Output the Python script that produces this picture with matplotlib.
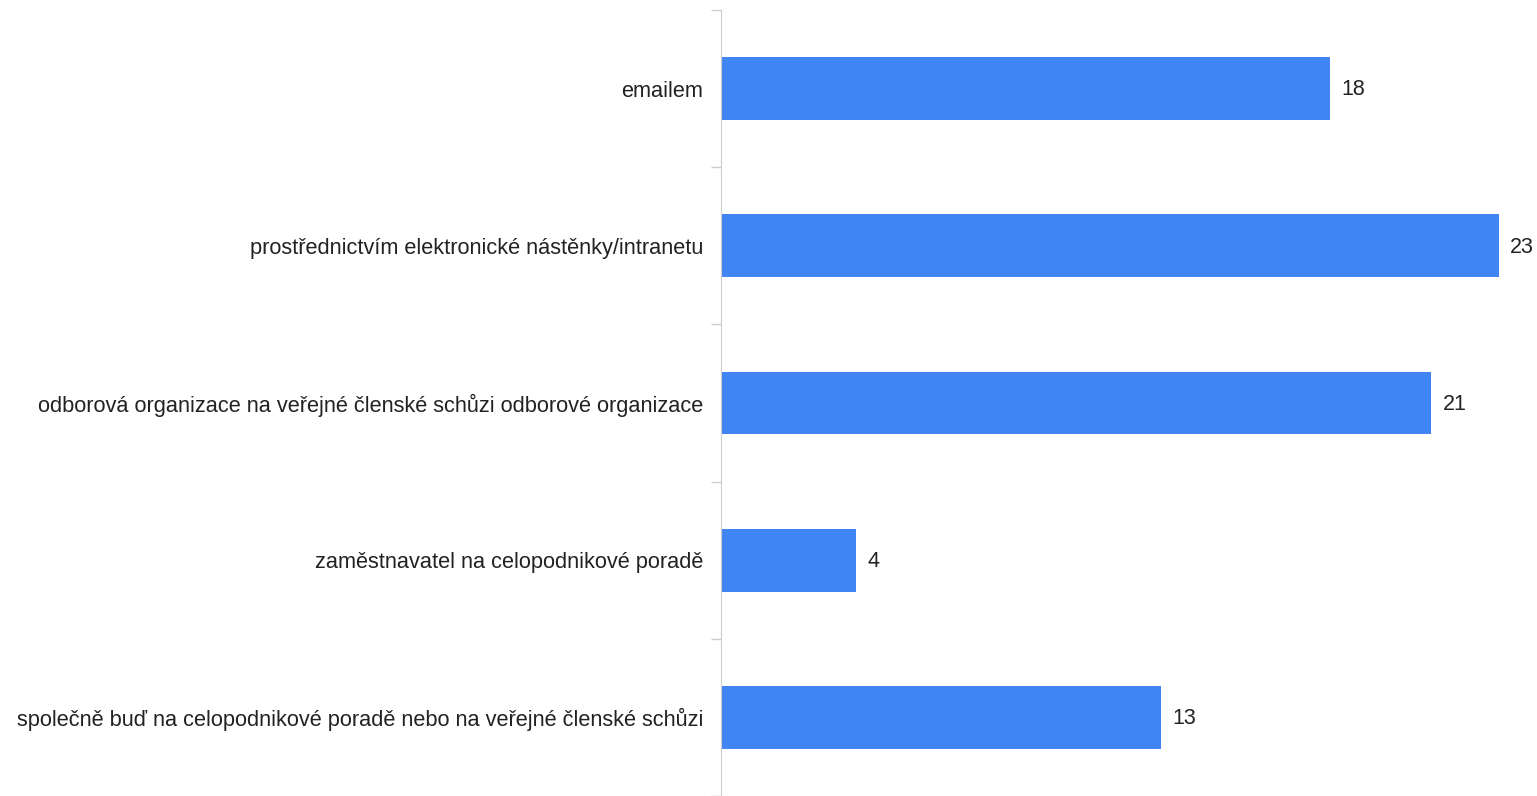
import matplotlib.pyplot as plt

plt.rcParams['font.family'] = ['Liberation Sans', 'DejaVu Sans']

# Odpovědi a počty
categories = [
    'emailem',
    'prostřednictvím elektronické nástěnky/intranetu',
    'odborová organizace na veřejné členské schůzi odborové organizace',
    'zaměstnavatel na celopodnikové poradě',
    'společně buď na celopodnikové poradě nebo na veřejné členské schůzi',
]
counts = [18, 23, 21, 4, 13]

fig = plt.figure(figsize=(15.37, 7.96), dpi=100)
ax = fig.add_axes([721 / 1537, 0.0, 816 / 1537, 1 - 10 / 796])

pos = list(range(len(categories)))
ax.barh(pos, counts, height=0.4, color='#4184f3')

# hodnoty za koncem sloupců
for y, v in zip(pos, counts):
    ax.annotate(str(v), (v, y), xytext=(8, -1), textcoords='offset points',
                va='center', ha='left', fontsize=15.5, color='#222222')

ax.set_ylim(len(categories) - 0.5, -0.5)
ax.set_xlim(0, 816 / 33.83)

ax.set_yticks(pos)
ax.set_yticklabels(categories, fontsize=15.7, color='#222222')
ax.tick_params(axis='y', which='major', length=0, pad=13)
ax.set_yticks([p - 0.5 for p in range(len(categories) + 1)], minor=True)
ax.tick_params(axis='y', which='minor', length=7, color='#cccccc', width=1)
ax.set_xticks([])

for side in ['top', 'right', 'bottom']:
    ax.spines[side].set_visible(False)
ax.spines['left'].set_color('#cccccc')

fig.savefig('out.png', dpi=100)
